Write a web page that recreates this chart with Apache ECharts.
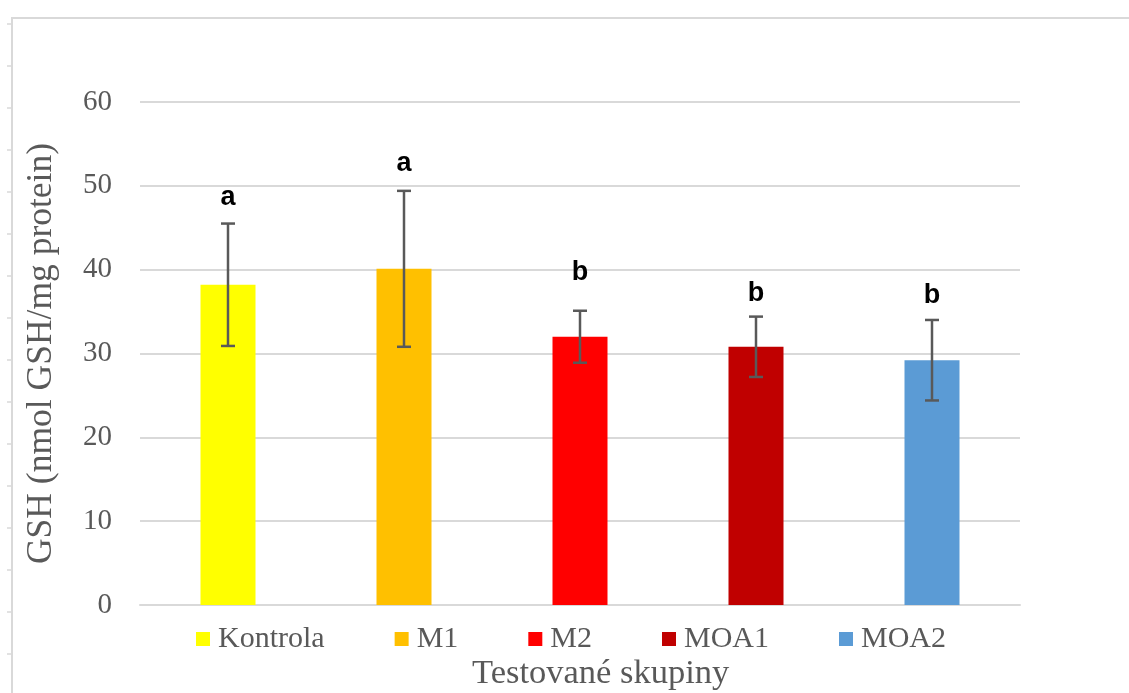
<!DOCTYPE html>
<html>
<head>
<meta charset="utf-8">
<script src="https://cdn.jsdelivr.net/npm/echarts@6/dist/echarts.min.js"></script>
<style>
  html, body { margin: 0; padding: 0; background: #fff; }
  #chart { width: 1129px; height: 693px; }
</style>
</head>
<body>
<div id="chart"></div>
<script>
var groups = ["Kontrola", "M1", "M2", "MOA1", "MOA2"];
var means = [38.2, 40.1, 32.0, 30.8, 29.2];
var errors = [7.3, 9.3, 3.1, 3.6, 4.8];
var letters = ["a", "a", "b", "b", "b"];
var letterY = [48.6, 52.7, 39.6, 37.2, 36.9];
var colors = ["#FFFF00", "#FFC000", "#FF0000", "#C00000", "#5B9BD5"];
var yTicks = [0, 10, 20, 30, 40, 50, 60];

var myChart = echarts.init(document.getElementById("chart"));
var serif = "'Liberation Serif', 'Times New Roman', serif";

// one bar series per group, so the legend lists the groups
var barSeries = groups.map(function (g, i) {
    var d = groups.map(function (x, j) { return j === i ? means[i] : null; });
    return {
        name: g,
        type: "bar",
        data: d,
        barWidth: 55,
        barGap: "-100%",
        itemStyle: { color: colors[i] },
        animation: false
    };
});

var errData = groups.map(function (g, i) {
    return [i, means[i] - errors[i], means[i] + errors[i], letterY[i]];
});

var errSeries = {
    type: "custom",
    data: errData,
    z: 10,
    animation: false,
    renderItem: function (params, api) {
        var lo = api.coord([api.value(0), api.value(1)]);
        var hi = api.coord([api.value(0), api.value(2)]);
        var lab = api.coord([api.value(0), api.value(3)]);
        var cap = 7;
        var st = { stroke: "#595959", lineWidth: 2.5 };
        return {
            type: "group",
            children: [
                { type: "line", shape: { x1: hi[0], y1: hi[1], x2: lo[0], y2: lo[1] }, style: st },
                { type: "line", shape: { x1: hi[0] - cap, y1: hi[1], x2: hi[0] + cap, y2: hi[1] }, style: st },
                { type: "line", shape: { x1: lo[0] - cap, y1: lo[1], x2: lo[0] + cap, y2: lo[1] }, style: st },
                {
                    type: "text",
                    x: lab[0], y: lab[1],
                    style: {
                        text: letters[params.dataIndex],
                        fill: "#000",
                        font: "bold 27px 'Liberation Sans', Arial, sans-serif",
                        textAlign: "center",
                        textVerticalAlign: "middle"
                    }
                }
            ]
        };
    }
};

// frame and little handle ticks on the left edge
var deco = [{
    type: "rect",
    shape: { x: 12, y: 18, width: 1200, height: 800 },
    style: { fill: null, stroke: "#d9d9d9", lineWidth: 2 },
    silent: true
}];
for (var k = 0; k < 16; k++) {
    deco.push({
        type: "line",
        shape: { x1: 7, y1: 24 + k * 42, x2: 12, y2: 24 + k * 42 },
        style: { stroke: "#d9d9d9", lineWidth: 1.5 },
        silent: true
    });
}

var option = {
    backgroundColor: "#fff",
    animation: false,
    graphic: deco,
    title: {
        text: "Testované skupiny",
        left: 472,
        top: 656,
        padding: 0,
        textStyle: { fontFamily: serif, fontSize: 34.5, fontWeight: "normal", color: "#595959" }
    },
    legend: {
        data: groups,
        left: 191,
        top: 619,
        itemWidth: 14,
        itemHeight: 14,
        itemGap: 70,
        icon: "rect",
        textStyle: { fontFamily: serif, fontSize: 30, color: "#595959", padding: [0, 0, 0, 3] }
    },
    grid: { left: 140, right: 109, top: 102, bottom: 88, containLabel: false },
    xAxis: {
        type: "category",
        data: groups,
        axisLine: { lineStyle: { color: "#d9d9d9", width: 2 } },
        axisTick: { show: false },
        axisLabel: { show: false }
    },
    yAxis: {
        type: "value",
        min: yTicks[0],
        max: yTicks[yTicks.length - 1],
        interval: 10,
        name: "GSH (nmol GSH/mg protein)",
        nameLocation: "middle",
        nameGap: 80,
        nameTextStyle: { fontFamily: serif, fontSize: 35.5, color: "#595959" },
        axisLine: { show: false },
        axisTick: { show: false },
        axisLabel: { fontFamily: serif, fontSize: 29, color: "#595959", margin: 28 },
        splitLine: { lineStyle: { color: "#d9d9d9", width: 2 } }
    },
    series: barSeries.concat([errSeries])
};

myChart.setOption(option);
</script>
</body>
</html>
